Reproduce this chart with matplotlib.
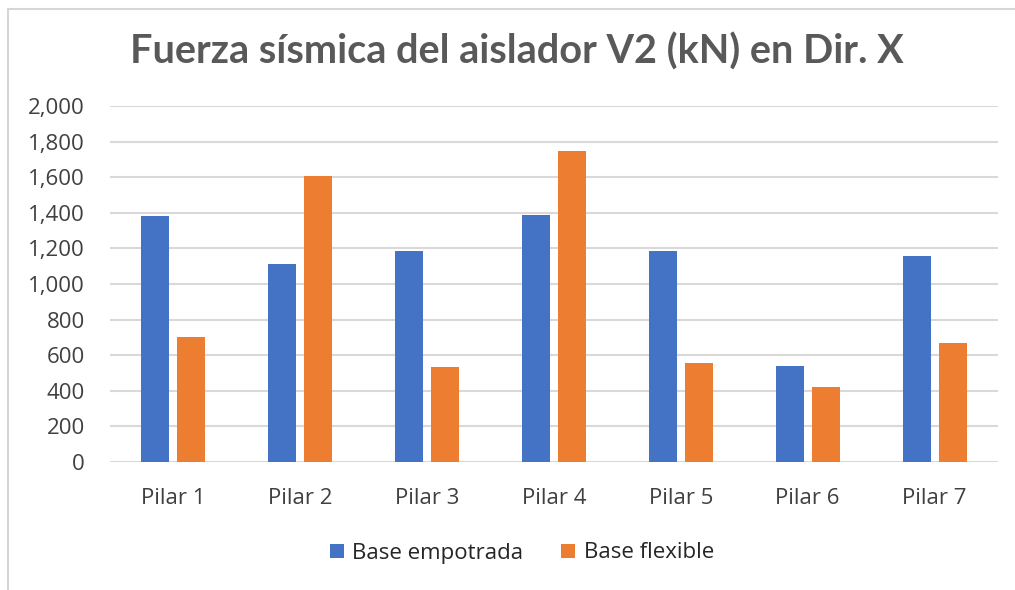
import matplotlib.pyplot as plt
import numpy as np
from matplotlib.lines import Line2D
from matplotlib.ticker import FuncFormatter

# fuerza sismica por pilar, kN
pilares = ['Pilar 1', 'Pilar 2', 'Pilar 3', 'Pilar 4', 'Pilar 5', 'Pilar 6', 'Pilar 7']
base_empotrada = [1380, 1110, 1185, 1390, 1185, 537, 1157]
base_flexible = [702, 1608, 535, 1745, 558, 420, 667]

azul = '#4472C4'
naranja = '#ED7D31'
gris = '#595959'

plt.rcParams['font.family'] = ['Open Sans', 'DejaVu Sans']

fig = plt.figure(figsize=(10.15, 5.9), dpi=100)
# marco del grafico (solo izquierda y arriba)
fig.lines.append(Line2D([7.5 / 1015, 7.5 / 1015, 1], [0, 1 - 8.5 / 590, 1 - 8.5 / 590],
                        transform=fig.transFigure, color='#d6d6d6', linewidth=1.5))

ax = fig.add_axes([110 / 1015, 1 - 462 / 590, 888 / 1015, 356 / 590])

x = np.arange(len(pilares))
ancho = 0.22
ax.bar(x - 0.142, base_empotrada, ancho, color=azul, label='Base empotrada', zorder=3)
ax.bar(x + 0.142, base_flexible, ancho, color=naranja, label='Base flexible', zorder=3)

ax.set_xlim(-0.5, len(pilares) - 0.5)
ax.set_ylim(0, 2000)
ax.set_yticks(range(0, 2001, 200))
ax.yaxis.set_major_formatter(FuncFormatter(lambda v, p: f'{int(v):,}'))
ax.set_xticks(x)
ax.set_xticklabels(pilares)
ax.grid(axis='y', color='#d9d9d9', linewidth=1.5, zorder=0)
for s in ax.spines.values():
    s.set_visible(False)
ax.tick_params(axis='both', length=0, labelsize=16, colors=gris)
ax.tick_params(axis='x', pad=19, labelcolor='#404040')
ax.tick_params(axis='y', pad=18, labelcolor='#404040')

fig.text(0.509, 1 - 52 / 590, 'Fuerza sísmica del aislador V2 (kN) en Dir. X',
         ha='center', va='center', fontsize=28.5, fontweight='bold', color=gris,
         family=['Lato', 'DejaVu Sans'])

fig.legend(loc='center', bbox_to_anchor=(522 / 1015, 1 - 553 / 590), ncol=2, frameon=False,
           fontsize=16, handlelength=0.6, handleheight=0.6, columnspacing=1.7,
           handletextpad=0.4, labelcolor='#262626')

fig.savefig('out.png', dpi=100)
